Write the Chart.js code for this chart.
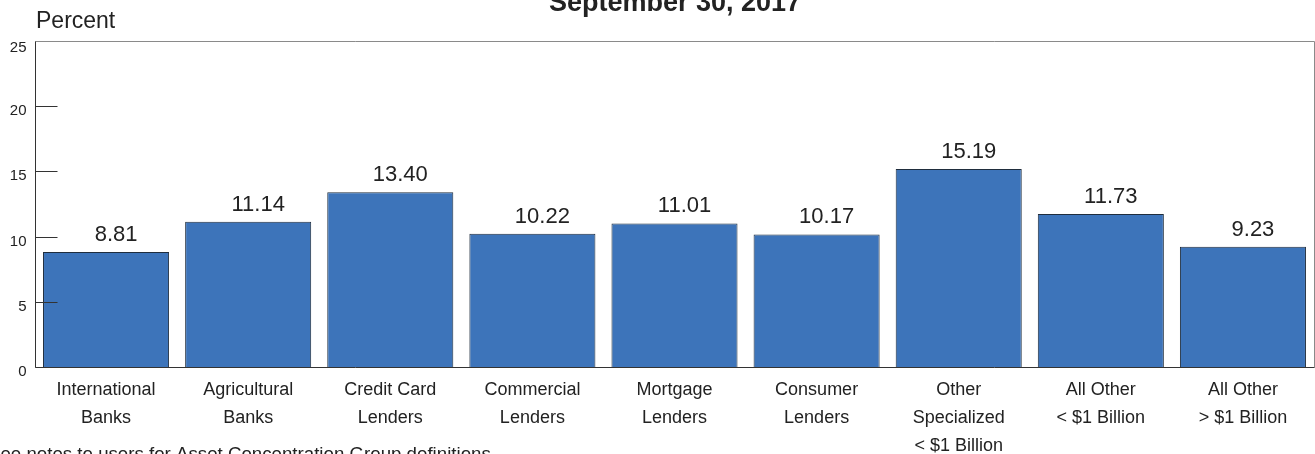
<!DOCTYPE html>
<html>
<head>
<meta charset="utf-8">
<script src="https://cdn.jsdelivr.net/npm/chart.js@4/dist/chart.umd.min.js"></script>
<style>
  body { margin: 0; background: #fff; }
  canvas { display: block; }
</style>
</head>
<body>
<canvas id="groupChart" width="1315" height="454"></canvas>
<script>
// Chart data
const titleText = 'September 30, 2017';
const axisTitle = 'Percent';
const footnote = 'See notes to users for Asset Concentration Group definitions.';

const categories = [
    ['International', 'Banks'],
    ['Agricultural', 'Banks'],
    ['Credit Card', 'Lenders'],
    ['Commercial', 'Lenders'],
    ['Mortgage', 'Lenders'],
    ['Consumer', 'Lenders'],
    ['Other', 'Specialized', '< $1 Billion'],
    ['All Other', '< $1 Billion'],
    ['All Other', '> $1 Billion']
];
const values = [8.81, 11.14, 13.40, 10.22, 11.01, 10.17, 15.19, 11.73, 9.23];
const yTicks = [0, 5, 10, 15, 20, 25];

const FONT = '"Liberation Sans", Arial, sans-serif';

// Frame, inner tick marks, y labels and value labels
const decorations = {
    id: 'decorations',
    afterDatasetsDraw(chart) {
        const ctx = chart.ctx;
        const area = chart.chartArea;
        const y = chart.scales.y;
        const L = Math.round(area.left) + 0.5;
        const R = Math.round(area.right) + 0.5;
        const T = Math.round(area.top) + 0.5;
        const B = Math.round(area.bottom) + 0.5;

        ctx.save();
        ctx.lineWidth = 1;

        // top and right border
        ctx.strokeStyle = '#8a8a8a';
        ctx.beginPath();
        ctx.moveTo(L, T); ctx.lineTo(R, T); ctx.lineTo(R, B);
        ctx.stroke();

        // inner ticks + labels (sit a little below the tick)
        ctx.font = '15px ' + FONT;
        ctx.textAlign = 'right';
        ctx.textBaseline = 'middle';
        yTicks.forEach(v => {
            const py = Math.round(y.getPixelForValue(v)) + 0.5;
            ctx.strokeStyle = v === 25 ? '#8a8a8a' : '#333';
            ctx.beginPath();
            ctx.moveTo(L, py); ctx.lineTo(L + 22, py);
            ctx.stroke();
            ctx.fillStyle = '#222';
            ctx.fillText(String(v), L - 9, py + (v === 25 ? 6 : 4));
        });

        // left and bottom axis
        ctx.strokeStyle = '#333';
        ctx.beginPath();
        ctx.moveTo(L, T); ctx.lineTo(L, B); ctx.lineTo(R, B);
        ctx.stroke();

        // value labels
        ctx.fillStyle = '#222';
        ctx.font = '22px ' + FONT;
        ctx.textAlign = 'center';
        ctx.textBaseline = 'alphabetic';
        chart.getDatasetMeta(0).data.forEach((bar, i) => {
            ctx.fillText(values[i].toFixed(2), bar.x + 10, bar.y - 11);
        });
        ctx.restore();
    },
    afterDraw(chart) {
        const ctx = chart.ctx;
        ctx.save();
        ctx.fillStyle = '#222';
        ctx.textBaseline = 'alphabetic';

        ctx.font = 'bold 27px ' + FONT;
        ctx.textAlign = 'center';
        ctx.fillText(titleText, 675, 11);

        ctx.font = '23px ' + FONT;
        ctx.textAlign = 'left';
        ctx.fillText(axisTitle, 36, 28);

        ctx.font = '18.7px ' + FONT;
        ctx.fillText(footnote, -12, 460);
        ctx.restore();
    }
};

const ctx = document.getElementById('groupChart').getContext('2d');
const groupChart = new Chart(ctx, {
    type: 'bar',
    data: {
        labels: categories,
        datasets: [{
            data: values,
            backgroundColor: '#3d74ba',
            borderColor: '#1f2d3d',
            borderWidth: 1,
            categoryPercentage: 1,
            barPercentage: 0.887
        }]
    },
    options: {
        responsive: false,
        animation: false,
        layout: { padding: { top: 41, right: 1, left: 0, bottom: 0 } },
        plugins: {
            legend: { display: false },
            tooltip: { enabled: false }
        },
        scales: {
            x: {
                grid: { display: false, drawTicks: false },
                border: { display: false },
                ticks: {
                    color: '#222',
                    font: { family: FONT, size: 18, lineHeight: 1.556 },
                    padding: 9,
                    maxRotation: 0,
                    autoSkip: false
                },
                afterFit(scale) { scale.height = 87; }
            },
            y: {
                min: 0,
                max: 25,
                grid: { display: false, drawTicks: false },
                border: { display: false },
                ticks: { display: false, stepSize: 5 },
                afterFit(scale) { scale.width = 35; }
            }
        }
    },
    plugins: [decorations]
});
</script>
</body>
</html>
